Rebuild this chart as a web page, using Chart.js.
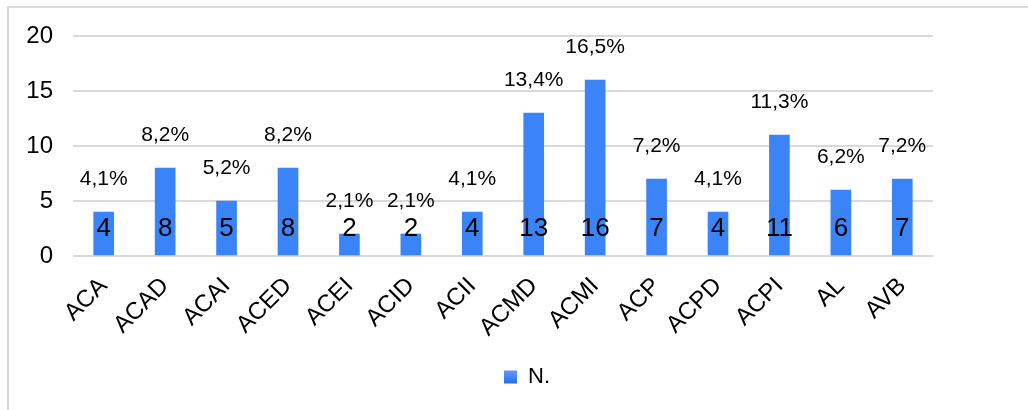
<!DOCTYPE html>
<html><head><meta charset="utf-8">
<script src="https://cdn.jsdelivr.net/npm/chart.js@4"></script>
<style>html,body{margin:0;padding:0;background:#fff;}#wrap{position:relative;width:1028px;height:410px;}</style>
</head><body><div id="wrap"><canvas id="c" width="1028" height="410"></canvas></div>
<script>
const categories = ["ACA","ACAD","ACAI","ACED","ACEI","ACID","ACII","ACMD","ACMI","ACP","ACPD","ACPI","AL","AVB"];
const counts = [4,8,5,8,2,2,4,13,16,7,4,11,6,7];
const percentLabels = ["4,1%","8,2%","5,2%","8,2%","2,1%","2,1%","4,1%","13,4%","16,5%","7,2%","4,1%","11,3%","6,2%","7,2%"];
const yTicks = [0,5,10,15,20];
const seriesName = "N.";

const FONT = "'Liberation Sans', Arial, sans-serif";

const framePlugin = {
  id: 'frame',
  beforeDraw(chart) {
    const ctx = chart.ctx;
    ctx.save();
    ctx.strokeStyle = '#d9d9d9';
    ctx.lineWidth = 2;
    ctx.beginPath();
    ctx.moveTo(8, 410); ctx.lineTo(8, 7); ctx.lineTo(1028, 7);
    ctx.stroke();
    ctx.restore();
  }
};

const labelPlugin = {
  id: 'barLabels',
  afterDatasetsDraw(chart) {
    const ctx = chart.ctx;
    const meta = chart.getDatasetMeta(0);
    ctx.save();
    ctx.fillStyle = '#000';
    ctx.textAlign = 'center';
    ctx.textBaseline = 'middle';
    meta.data.forEach((bar, i) => {
      ctx.font = '26px ' + FONT;
      ctx.fillText(String(counts[i]), bar.x, bar.base - 26);
      ctx.font = '21px ' + FONT;
      ctx.fillText(percentLabels[i], bar.x, bar.y - 33);
    });
    ctx.restore();
  }
};

function makeGrad(ctx, top, base) {
  const g = ctx.createLinearGradient(0, top, 0, base);
  g.addColorStop(0, '#6596f0');
  g.addColorStop(0.5, '#3c86fb');
  g.addColorStop(1, '#2869dc');
  return g;
}

function barGradient(context) {
  const chart = context.chart;
  const el = context.element;
  if (!el || !chart.chartArea || context.type !== 'data') return '#3a84f8';
  const top = el.y, base = el.base;
  if (!isFinite(top) || !isFinite(base) || top === base) return '#3a84f8';
  return makeGrad(chart.ctx, top, base);
}

new Chart(document.getElementById('c'), {
  type: 'bar',
  data: {
    labels: categories,
    datasets: [{
      label: seriesName,
      data: counts,
      backgroundColor: barGradient,
      barThickness: 20,
      borderWidth: 0
    }]
  },
  options: {
    responsive: false,
    animation: false,
    devicePixelRatio: 1,
    layout: { padding: { left: 26, right: 0, top: 36, bottom: 12 } },
    plugins: {
      legend: {
        position: 'bottom',
        labels: {
          boxWidth: 13, boxHeight: 13, padding: 10,
          color: '#000',
          font: { size: 22, family: FONT },
          generateLabels(chart) {
            return [{ text: seriesName, fillStyle: makeGrad(chart.ctx, 371, 384), strokeStyle: 'rgba(0,0,0,0)', lineWidth: 0, datasetIndex: 0 }];
          }
        }
      },
      tooltip: { enabled: false }
    },
    scales: {
      x: {
        grid: { display: false, drawTicks: false },
        border: { display: false },
        ticks: {
          color: '#000', font: { size: 24, family: FONT },
          maxRotation: 45, minRotation: 45, autoSkip: false, padding: 16
        },
        afterFit(scale) { scale.height = 100; }
      },
      y: {
        min: 0, max: 20,
        afterBuildTicks(scale) { scale.ticks = yTicks.map(v => ({ value: v })); },
        grid: { color: '#d9d9d9', lineWidth: 2, drawTicks: false },
        border: { display: false },
        ticks: { color: '#000', font: { size: 24, family: FONT }, padding: 20 },
        afterFit(scale) { scale.width = 47; }
      },
      yRight: {
        position: 'right',
        min: 0, max: 20,
        grid: { display: false, drawTicks: false },
        border: { display: false },
        ticks: { display: false },
        afterFit(scale) { scale.width = 95; }
      }
    }
  },
  plugins: [framePlugin, labelPlugin]
});
</script></body></html>
